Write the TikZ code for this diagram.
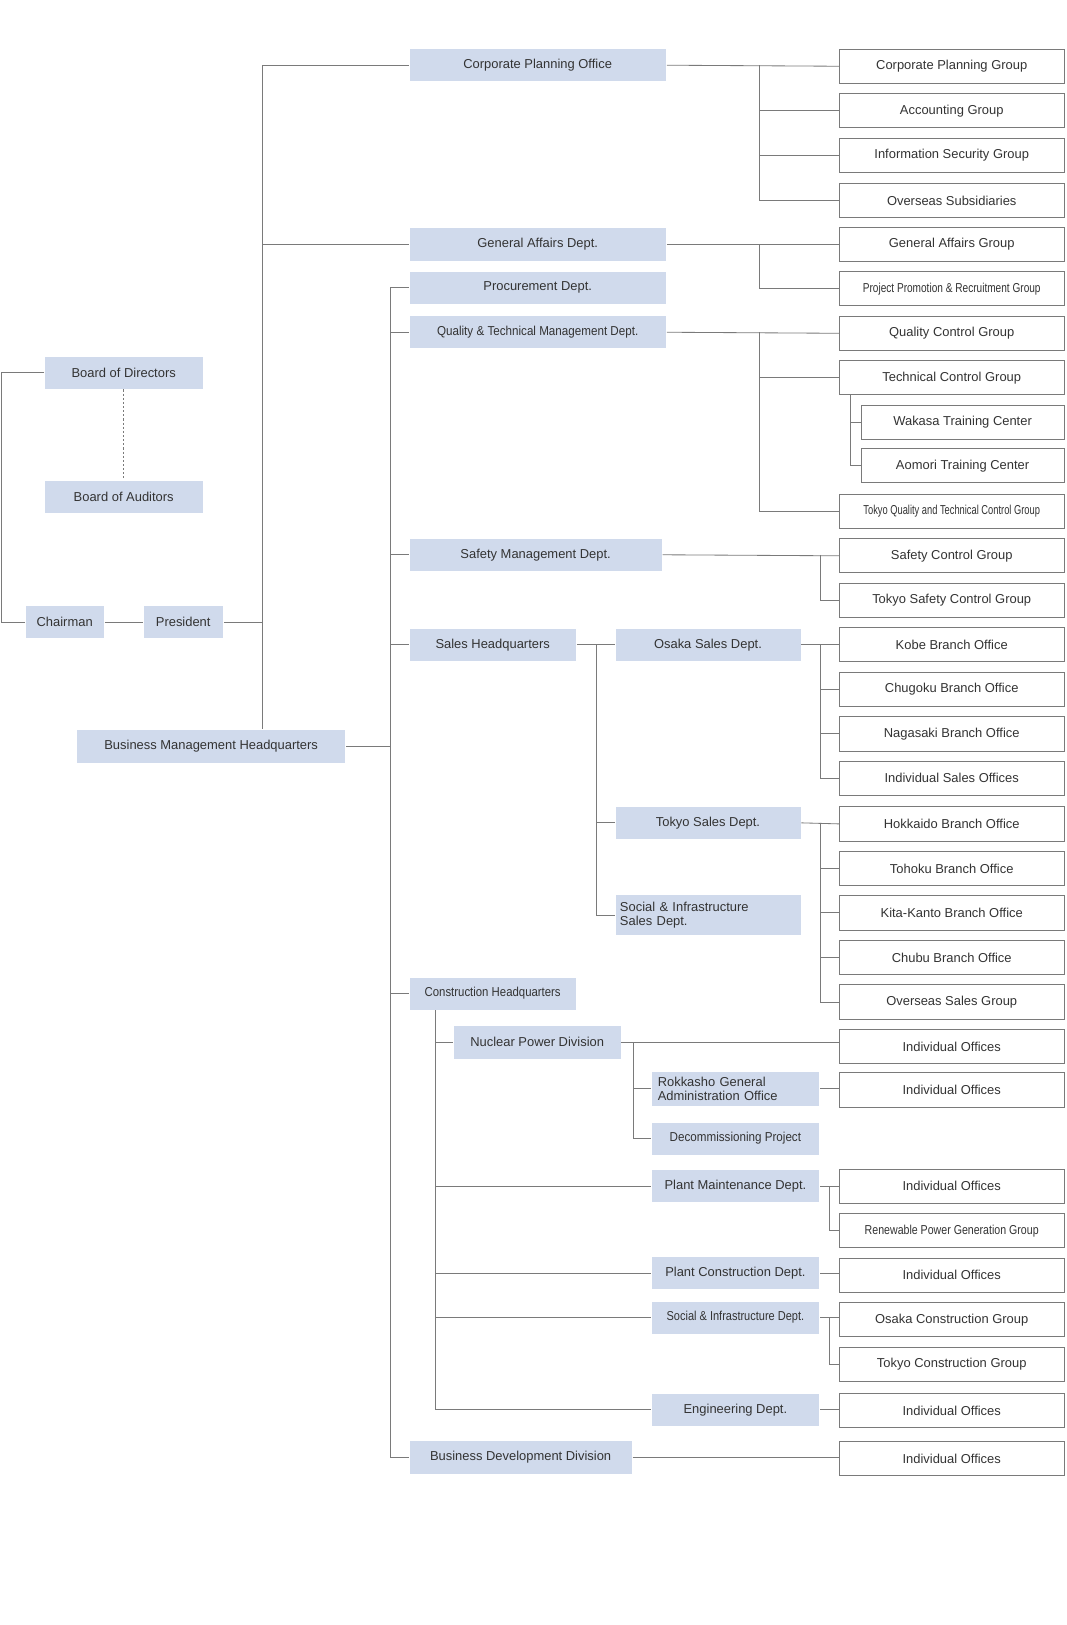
\documentclass[tikz,border=0pt]{standalone}
\usepackage{fontspec}
\setmainfont{Liberation Sans}
\newcommand{\cnd}[2][0.82]{\scalebox{#1}[1]{#2}}
\begin{document}
\begin{tikzpicture}[x=1pt,y=-1pt,
  bl/.style={fill=boxblue,draw=white,line width=0.6pt,inner sep=1pt,font=\fontsize{12.5}{13}\selectfont,text=txt,minimum height=32pt,align=center},
  wb/.style={draw=ln,line width=0.8pt,fill=white,inner sep=1pt,font=\fontsize{12.5}{13}\selectfont,text=txt,minimum height=33pt,minimum width=217pt},
  wb2/.style={wb,minimum width=196pt},
  ln/.style={draw=ln,line width=0.8pt}]
\definecolor{boxblue}{HTML}{D0DAEC}
\definecolor{ln}{HTML}{7A7A7A}
\definecolor{txt}{HTML}{333333}
\useasboundingbox (0,0) rectangle (1030,1570);
% left
\node[bl,minimum width=153pt] (bod) at (119.5,360) {Board of Directors};
\node[bl,minimum width=153pt] (boa) at (119.5,480) {Board of Auditors};
\node[bl,minimum width=77pt] (chair) at (62.5,601) {Chairman};
\node[bl,minimum width=78pt] (pres) at (177,601) {President};
\node[bl,minimum width=260pt] (bmh) at (204,721) {Business Management Headquarters};
% middle
\node[bl,minimum width=249pt] (cpo) at (519.5,63) {Corporate Planning Office};
\node[bl,minimum width=249pt] (gad) at (519.5,236) {General Affairs Dept.};
\node[bl,minimum width=249pt] (proc) at (519.5,278) {Procurement Dept.};
\node[bl,minimum width=249pt] (qtm) at (519.5,321) {\cnd[0.9]{Quality \& Technical Management Dept.}};
\node[bl,minimum width=245pt] (smd) at (517.5,536) {Safety Management Dept.};
\node[bl,minimum width=162pt] (shq) at (476,623) {Sales Headquarters};
\node[bl,minimum width=162pt] (chq) at (476,960) {\cnd[0.88]{Construction Headquarters}};
\node[bl,minimum width=216pt] (bdd) at (503,1408) {Business Development Division};
% sales
\node[bl,minimum width=180pt] (osd) at (684,623) {Osaka Sales Dept.};
\node[bl,minimum width=180pt] (tsd) at (684,795) {Tokyo Sales Dept.};
\node[bl,minimum width=180pt,minimum height=40pt,align=left,text width=170pt,font=\fontsize{12.5}{14}\selectfont] (sisd) at (684,884) {Social \& Infrastructure\\Sales Dept.};
% construction
\node[bl,minimum width=162pt] (npd) at (519,1007) {Nuclear Power Division};
\node[bl,minimum width=163pt,minimum height=34pt,align=left,text width=150pt,font=\fontsize{12.5}{13.5}\selectfont] (rok) at (710.5,1052) {Rokkasho General\\Administration Office};
\node[bl,minimum width=163pt] (dec) at (710.5,1100) {\cnd[0.9]{Decommissioning Project}};
\node[bl,minimum width=163pt] (pmd) at (710.5,1146) {Plant Maintenance Dept.};
\node[bl,minimum width=163pt] (pcd) at (710.5,1230) {Plant Construction Dept.};
\node[bl,minimum width=163pt] (sid) at (710.5,1273) {\cnd[0.85]{Social \& Infrastructure Dept.}};
\node[bl,minimum width=163pt] (eng) at (710.5,1362) {Engineering Dept.};
% right
\node[wb] (r1) at (919.5,64) {Corporate Planning Group};
\node[wb] (r2) at (919.5,107) {Accounting Group};
\node[wb] (r3) at (919.5,150) {Information Security Group};
\node[wb] (r4) at (919.5,194) {Overseas Subsidiaries};
\node[wb] (r5) at (919.5,236) {General Affairs Group};
\node[wb] (r6) at (919.5,279) {\cnd[0.78]{Project Promotion \& Recruitment Group}};
\node[wb] (r7) at (919.5,322) {Quality Control Group};
\node[wb] (r8) at (919.5,365) {Technical Control Group};
\node[wb2] (r9) at (930,408) {Wakasa Training Center};
\node[wb2] (r10) at (930,450) {Aomori Training Center};
\node[wb] (r11) at (919.5,494) {\cnd[0.72]{Tokyo Quality and Technical Control Group}};
\node[wb] (r12) at (919.5,537) {Safety Control Group};
\node[wb] (r13) at (919.5,580) {Tokyo Safety Control Group};
\node[wb] (r14) at (919.5,623) {Kobe Branch Office};
\node[wb] (r15) at (919.5,666) {Chugoku Branch Office};
\node[wb] (r16) at (919.5,709) {Nagasaki Branch Office};
\node[wb] (r17) at (919.5,752) {Individual Sales Offices};
\node[wb] (r18) at (919.5,796) {Hokkaido Branch Office};
\node[wb] (r19) at (919.5,839) {Tohoku Branch Office};
\node[wb] (r20) at (919.5,882) {Kita-Kanto Branch Office};
\node[wb] (r21) at (919.5,925) {Chubu Branch Office};
\node[wb] (r22) at (919.5,968) {Overseas Sales Group};
\node[wb] (r23) at (919.5,1011) {Individual Offices};
\node[wb] (r24) at (919.5,1053) {Individual Offices};
\node[wb] (r25) at (919.5,1146) {Individual Offices};
\node[wb] (r26) at (919.5,1189) {\cnd[0.82]{Renewable Power Generation Group}};
\node[wb] (r27) at (919.5,1232) {Individual Offices};
\node[wb] (r28) at (919.5,1275) {Osaka Construction Group};
\node[wb] (r29) at (919.5,1318) {Tokyo Construction Group};
\node[wb] (r30) at (919.5,1363) {Individual Offices};
\node[wb] (r31) at (919.5,1409) {Individual Offices};
% bus coordinates
\coordinate (bl0) at (1,360);
\coordinate (bp) at (254,601);
\coordinate (bm) at (377,721);
\coordinate (bc1) at (734,63);
\coordinate (bc2) at (734,236);
\coordinate (bc3) at (734,321);
\coordinate (bt) at (822,381);
\coordinate (bs) at (793,536);
\coordinate (bsh) at (576,623);
\coordinate (bo) at (793,623);
\coordinate (bts) at (793,795);
\coordinate (bch) at (421,976);
\coordinate (bn) at (612,1008);
\coordinate (bpm) at (801,1146);
\coordinate (bsi) at (801,1273);
% connectors
\draw[ln,dashed,dash pattern=on 2pt off 2pt] (bod) -- (boa);
\draw[ln] (bod.west) -| (bl0) |- (chair.west);
\draw[ln] (chair) -- (pres);
\draw[ln] (pres.east) -- (bp) |- (cpo.west);
\draw[ln] (bp) |- (gad.west);
\draw[ln] (bp) -- (bp |- bmh.north);
\draw[ln] (bmh.east) -- (bm);
\draw[ln] (bm) |- (proc.west);
\draw[ln] (bm) |- (qtm.west);
\draw[ln] (bm) |- (smd.west);
\draw[ln] (bm) |- (shq.west);
\draw[ln] (bm) |- (chq.west);
\draw[ln] (bm) |- (bdd.west);
\draw[ln] (cpo.east) -- (r1.west);
\draw[ln] (bc1) |- (r2.west); \draw[ln] (bc1) |- (r3.west); \draw[ln] (bc1) |- (r4.west);
\draw[ln] (gad.east) -- (r5.west); \draw[ln] (bc2) |- (r6.west);
\draw[ln] (qtm.east) -- (r7.west); \draw[ln] (bc3) |- (r8.west); \draw[ln] (bc3) |- (r11.west);
\draw[ln] (bt) |- (r9.west); \draw[ln] (bt) |- (r10.west);
\draw[ln] (smd.east) -- (r12.west); \draw[ln] (bs) |- (r13.west);
\draw[ln] (shq.east) -- (osd.west);
\draw[ln] (bsh) |- (tsd.west); \draw[ln] (bsh) |- (sisd.west);
\draw[ln] (osd.east) -- (r14.west);
\draw[ln] (bo) |- (r15.west); \draw[ln] (bo) |- (r16.west); \draw[ln] (bo) |- (r17.west);
\draw[ln] (tsd.east) -- (r18.west);
\draw[ln] (bts) |- (r19.west); \draw[ln] (bts) |- (r20.west); \draw[ln] (bts) |- (r21.west); \draw[ln] (bts) |- (r22.west);
\draw[ln] (bch) |- (npd.west);
\draw[ln] (bch) |- (pmd.west); \draw[ln] (bch) |- (pcd.west); \draw[ln] (bch) |- (sid.west); \draw[ln] (bch) |- (eng.west);
\draw[ln] (npd.east) -- (r23.west |- npd.east);
\draw[ln] (bn) |- (rok.west); \draw[ln] (bn) |- (dec.west);
\draw[ln] (rok.east) -- (r24.west |- rok.east);
\draw[ln] (pmd.east) -- (r25.west |- pmd.east); \draw[ln] (bpm) |- (r26.west);
\draw[ln] (pcd.east) -- (r27.west |- pcd.east);
\draw[ln] (sid.east) -- (r28.west |- sid.east); \draw[ln] (bsi) |- (r29.west);
\draw[ln] (eng.east) -- (r30.west |- eng.east);
\draw[ln] (bdd.east) -- (r31.west |- bdd.east);
\end{tikzpicture}
\end{document}
